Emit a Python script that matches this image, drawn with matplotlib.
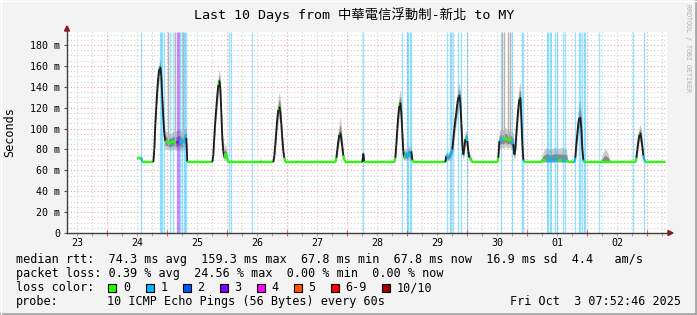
import numpy as np
import matplotlib.pyplot as plt
from matplotlib.collections import LineCollection
from matplotlib.patches import Rectangle, Polygon
from matplotlib.lines import Line2D
from matplotlib.ticker import MultipleLocator, FuncFormatter

plt.rcParams['font.family'] = ['DejaVu Sans Mono', 'Noto Sans CJK TC']

# time axis: hours since Sep 23 00:00, window ends Oct 3 07:52
t_start, t_end = 7.88, 247.88

t_hours = [
    36.0, 37.6, 38.0, 42.4, 42.8, 43.2, 43.6, 44.0, 44.4, 44.8, 45.2, 45.6, 46.0, 46.4,
    46.8, 47.2, 48.0, 49.2, 50.4, 51.6, 52.8, 54.0, 54.8, 55.6, 56.0,
    66.0, 66.4, 66.8, 67.2, 67.6, 68.0, 68.4, 68.8, 69.2, 69.6, 70.0, 70.4, 70.8, 71.2,
    71.6, 72.4, 84.8, 85.2, 85.6,
    90.4, 90.8, 91.2, 91.6, 92.0, 92.4, 92.8, 93.2, 93.6, 94.0, 94.4, 94.8, 95.2,
    115.2, 115.6, 116.0, 116.4, 116.8, 117.2, 117.6, 118.0, 118.4, 118.8, 119.2,
    126.0, 126.4, 126.8,
    138.8, 139.2, 139.6, 140.0, 140.4, 140.8, 141.2, 141.6, 142.0, 142.4, 142.8, 143.2,
    144.0, 144.4, 145.2, 145.6, 146.0, 146.4,
    159.2, 159.6, 160.4, 161.2, 162.0, 162.4, 162.8, 163.2, 163.6, 164.0, 164.4, 164.8,
    165.2, 165.6, 166.0, 166.4, 166.8, 167.2, 167.6, 168.0, 168.4, 168.8, 169.6, 170.0,
    180.0, 180.4, 180.8, 181.6, 182.4, 183.2, 184.0, 184.8, 185.6, 186.4, 186.8, 187.2,
    187.6, 188.0, 188.4, 188.8, 189.2, 189.6, 190.0, 190.4, 190.8,
    197.2, 198.4, 199.6, 201.2, 202.8, 204.4, 206.0, 207.6, 208.4,
    210.8, 211.2, 211.6, 212.0, 212.4, 212.8, 213.2, 213.6, 214.0, 214.4, 214.8,
    221.2, 222.0, 223.2, 224.4, 225.2,
    235.2, 235.6, 236.0, 236.4, 236.8, 237.2, 237.6, 238.0, 238.4, 238.8, 239.2, 247.2,
]
median_ms = [
    72, 72, 68, 68, 80, 105, 122, 138, 150, 157, 159, 150, 128, 110,
    95, 88, 87, 86, 88, 86, 88, 86, 90, 91, 68,
    68, 75, 92, 108, 120, 132, 142, 146, 138, 115, 90, 78, 72, 76,
    74, 68, 68, 68, 68,
    68, 74, 85, 98, 110, 118, 121, 116, 104, 90, 78, 72, 68,
    68, 72, 80, 88, 94, 96, 90, 82, 74, 70, 68,
    68, 76, 68,
    68, 72, 85, 100, 113, 122, 125, 115, 95, 78, 72, 75,
    73, 77, 74, 78, 70, 68,
    68, 74, 72, 75, 80, 90, 100, 108, 115, 124, 130, 132,
    125, 105, 85, 75, 82, 90, 92, 88, 78, 72, 70, 68,
    68, 72, 88, 90, 89, 91, 89, 90, 88, 85, 75, 80,
    95, 108, 120, 128, 130, 110, 85, 70, 68,
    68, 70, 70, 69, 70, 70, 69, 70, 68,
    68, 72, 85, 95, 105, 110, 111, 100, 80, 70, 68,
    68, 68, 68, 68, 68,
    68, 72, 80, 88, 94, 96, 90, 82, 74, 70, 68, 68,
]
smoke_lo_ms = [
    70.5, 70.5, 67.5, 67.5, 72, 92, 110, 125, 138, 146, 148, 138, 112, 96,
    84, 80, 80, 79, 80, 79, 80, 78, 82, 83, 67.5,
    67.5, 70, 82, 98, 110, 120, 132, 136, 126, 102, 80, 72, 69, 70,
    69, 67.5, 67.5, 67.5, 67.5,
    67.5, 70, 76, 88, 98, 106, 110, 104, 92, 80, 72, 69, 67.5,
    67.5, 69, 73, 80, 86, 88, 82, 75, 70, 68, 67.5,
    67.5, 70, 67.5,
    67.5, 69, 76, 90, 102, 110, 114, 104, 84, 72, 69, 70,
    69, 71, 69, 71, 68, 67.5,
    67.5, 69, 69, 70, 73, 80, 90, 98, 104, 112, 118, 120,
    112, 92, 76, 70, 74, 82, 84, 80, 72, 69, 68, 67.5,
    67.5, 69, 80, 82, 81, 83, 81, 82, 80, 76, 70, 72,
    85, 96, 108, 116, 118, 98, 76, 68, 67.5,
    67.5, 67.5, 67.5, 67.5, 67.5, 67.5, 67.5, 67.5, 67.5,
    67.5, 69, 76, 85, 94, 98, 100, 88, 72, 68, 67.5,
    67.5, 67.5, 67.5, 67.5, 67.5,
    67.5, 69, 73, 80, 86, 88, 82, 75, 70, 68, 67.5, 67.5,
]
smoke_hi_ms = [
    73.5, 73.5, 69, 69, 88, 114, 130, 146, 158, 164, 166, 160, 140, 122,
    106, 98, 96, 95, 97, 98, 99, 97, 100, 100, 69,
    69, 82, 100, 116, 128, 140, 152, 156, 150, 130, 104, 88, 82, 85,
    82, 69, 69, 72.5, 69,
    69, 80, 94, 108, 122, 130, 135, 130, 116, 100, 86, 76, 69,
    69, 77, 88, 98, 106, 111, 104, 92, 80, 73, 69,
    69, 80, 69,
    69, 78, 94, 110, 124, 134, 137, 128, 108, 86, 78, 82,
    80, 84, 81, 84, 74, 69,
    69, 78, 77, 80, 88, 98, 110, 118, 126, 135, 141, 143,
    138, 120, 98, 84, 90, 97, 98, 95, 86, 78, 73, 69,
    69, 80, 98, 100, 99, 101, 99, 100, 98, 95, 84, 90,
    106, 120, 134, 142, 144, 126, 98, 76, 69,
    69, 78, 82, 80, 82, 81, 82, 80, 69,
    69, 78, 96, 108, 118, 125, 127, 116, 94, 76, 69,
    69, 75, 81, 76, 69,
    69, 76, 86, 96, 102, 104, 100, 92, 80, 73, 69, 69,
]

# loss events (pings lost out of 10)
loss_hours = [
    37.6, 45.2, 45.6, 46.0, 46.8, 49.2, 50.4, 52.0, 52.4, 52.8, 53.2, 54.0, 54.8, 55.2, 55.6,
    72.8, 73.6, 82.0, 126.4, 142.0, 144.0, 144.4, 145.2, 145.6,
    160.0, 161.2, 161.6, 162.4, 164.4, 165.6, 168.0, 181.6, 186.0, 190.0, 190.4,
    200.0, 200.4, 201.2, 201.6, 203.2, 204.0, 206.4, 207.2,
    211.2, 212.8, 213.2, 214.0, 214.8, 215.2, 220.8, 234.4, 238.8,
]
loss_level = [
    1, 1, 1, 1, 1, 1, 1, 3, 3, 3, 1, 1, 1, 1, 1,
    1, 1, 1, 1, 1, 1, 1, 1, 1,
    1, 1, 1, 1, 1, 1, 1, 1, 1, 1, 1,
    1, 1, 1, 1, 1, 1, 1, 1,
    1, 1, 1, 1, 1, 1, 1, 1, 1,
]

# single samples whose smoke runs off the top
spike_hours = [48.4, 51.2, 54.4, 182.0, 182.8, 184.4, 185.2]
spike_from_ms = [84, 82, 84, 92, 92, 92, 92]

day_labels = ['23', '24', '25', '26', '27', '28', '29', '30', '01', '02']
loss_colors = ['#26ff00', '#00b8ff', '#0059ff', '#7e00ff', '#ff00ff', '#ff5500', '#ff0000', '#a10000']
loss_names = ['0', '1', '2', '3', '4', '5', '6-9', '10/10']

W, H = 697, 315
def fx(px):
    return px / W
def fy(py):
    return 1 - py / H

fig = plt.figure(figsize=(W / 100, H / 100), dpi=100, facecolor='#f3f3f3')
ax = fig.add_axes([fx(67), fy(233), 600 / W, 201 / H])
ax.set_facecolor('white')
ymax = 192.4
ax.set_xlim(t_start, t_end)
ax.set_ylim(0, ymax)

# grid
ax.xaxis.set_major_locator(MultipleLocator(24))
ax.xaxis.set_minor_locator(MultipleLocator(6))
ax.yaxis.set_major_locator(MultipleLocator(20))
ax.yaxis.set_minor_locator(MultipleLocator(5))
ax.grid(which='major', color='#eaa3a3', lw=0.8, ls=(0, (1, 2)))
ax.grid(which='minor', color='#cfcfcf', lw=0.8, ls=(0, (1, 2)))
ax.set_axisbelow(True)
for s in ax.spines.values():
    s.set_visible(False)
ax.set_xticklabels([])
ax.tick_params(axis='x', which='major', length=4, direction='inout', color='#e06060')
ax.tick_params(axis='x', which='minor', length=2, direction='out', color='#999999')
ax.tick_params(axis='y', which='major', length=2, color='#555555', labelsize=7.2, pad=3)
ax.tick_params(axis='y', which='minor', length=0)
ax.yaxis.set_major_formatter(FuncFormatter(lambda v, p: '0' if v == 0 else f'{int(v)} m'))

for i, lab in enumerate(day_labels):
    ax.text(12 + 24 * i, -13.5 / 201, lab, transform=ax.get_xaxis_transform(),
            ha='center', va='baseline', fontsize=7.2)

# loss bars
ax.vlines(loss_hours, 0, ymax, colors=[loss_colors[l] for l in loss_level], lw=1.0, alpha=0.38)
ax.vlines(spike_hours, spike_from_ms, ymax, colors='#b4b4b4', lw=1.0)

# smoke
t = np.array(t_hours)
med = np.array(median_ms)
lo = np.array(smoke_lo_ms)
hi = np.array(smoke_hi_ms)
ax.fill_between(t, lo, hi, color='#cccccc', lw=0)
ax.fill_between(t, (lo + med) / 2, (hi + med) / 2, color='#8a8a8a', lw=0)

# median, coloured by steepness / loss
segs, cols, widths = [], [], []
lh = np.array(loss_hours)
for i in range(len(t) - 1):
    segs.append([(t[i], med[i]), (t[i + 1], med[i + 1])])
    slope = abs(med[i + 1] - med[i]) / (t[i + 1] - t[i])
    mid = (t[i] + t[i + 1]) / 2
    near = np.abs(lh - mid) < 0.45
    if slope > 12:
        cols.append('#1c1c1c')
        widths.append(1.3)
    elif near.any():
        cols.append(loss_colors[loss_level[int(np.argmax(near))]])
        widths.append(1.5)
    else:
        cols.append(loss_colors[0])
        widths.append(1.6)
ax.add_collection(LineCollection(segs, colors=cols, linewidths=widths, capstyle='butt'))

# axes with arrows
axis_col = '#404040'
fig.add_artist(Line2D([fx(67), fx(67)], [fy(233), fy(31)], color=axis_col, lw=1))
fig.add_artist(Line2D([fx(67), fx(668)], [fy(233), fy(233)], color=axis_col, lw=1))
fig.add_artist(Polygon([(fx(64.5), fy(31)), (fx(69.5), fy(31)), (fx(67), fy(26))],
                       closed=True, color='#8b1a1a', transform=fig.transFigure))
fig.add_artist(Polygon([(fx(668), fy(230.5)), (fx(668), fy(235.5)), (fx(673), fy(233))],
                       closed=True, color='#8b1a1a', transform=fig.transFigure))

# texts
fig.text(fx(354), fy(19.5), 'Last 10 Days from 中華電信浮動制-新北 to MY',
         ha='center', va='baseline', fontsize=9.6)
fig.text(fx(10), fy(132.5), 'Seconds', rotation=90, ha='center', va='center', fontsize=8.5)
fig.text(fx(688), fy(4), 'RRDTOOL / TOBI OETIKER', rotation=270, ha='center', va='top',
         fontsize=4.8, color='#b0b0b0')

fs = 8.5
fig.text(fx(16), fy(263.5),
         'median rtt:  74.3 ms avg  159.3 ms max  67.8 ms min  67.8 ms now  16.9 ms sd  4.4   am/s',
         ha='left', va='baseline', fontsize=fs)
fig.text(fx(16), fy(277.5),
         'packet loss: 0.39 % avg  24.56 % max  0.00 % min  0.00 % now',
         ha='left', va='baseline', fontsize=fs)
fig.text(fx(16), fy(291.3), 'loss color:', ha='left', va='baseline', fontsize=fs)
box_x = [108, 145.5, 182.5, 219.5, 256.5, 293.5, 330.5, 381.5]
for x, c, n in zip(box_x, loss_colors, loss_names):
    fig.add_artist(Rectangle((fx(x), fy(291.5)), 8 / W, 8 / H, transform=fig.transFigure,
                             facecolor=c, edgecolor='black', lw=0.8))
    fig.text(fx(x + 15), fy(291.3), n, ha='left', va='baseline', fontsize=fs)
fig.text(fx(16), fy(305), 'probe:', ha='left', va='baseline', fontsize=fs)
fig.text(fx(107), fy(305), '10 ICMP Echo Pings (56 Bytes) every 60s',
         ha='left', va='baseline', fontsize=fs)
fig.text(fx(681), fy(305), 'Fri Oct  3 07:52:46 2025', ha='right', va='baseline', fontsize=fs)

# frame
fig.add_artist(Line2D([0, 1], [fy(313.5), fy(313.5)], color='#a8a8a8', lw=2))
fig.add_artist(Line2D([fx(695.5), fx(695.5)], [0, 1], color='#a8a8a8', lw=2))
fig.add_artist(Line2D([0, 1], [fy(0.5), fy(0.5)], color='#ffffff', lw=1))
fig.add_artist(Line2D([fx(0.5), fx(0.5)], [0, 1], color='#ffffff', lw=1))

fig.savefig('out.png', dpi=100, facecolor=fig.get_facecolor())
